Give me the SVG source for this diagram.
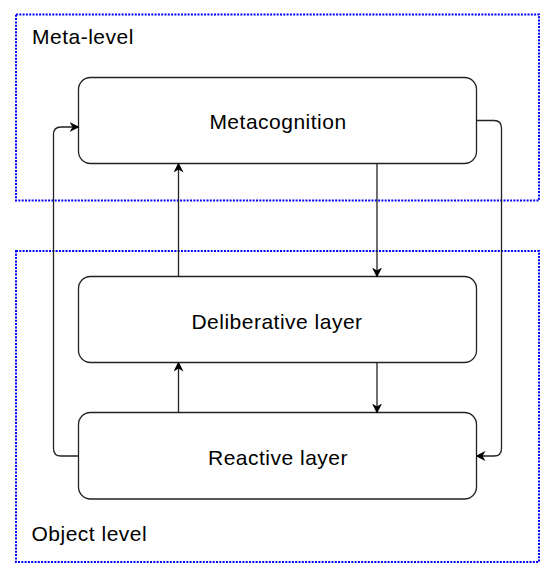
<svg xmlns="http://www.w3.org/2000/svg" width="557" height="581" viewBox="0 0 557 581">
<style>
.region{fill:none;stroke:#0000ff;stroke-width:2;stroke-dasharray:2 1.3}
.node{fill:#ffffff;stroke:#222222;stroke-width:1.3}
.lbl{font-family:"Liberation Sans",Arial,sans-serif;font-size:21px;letter-spacing:0.5px;fill:#000}
.conn path{fill:none;stroke:#222222;stroke-width:1.3}
</style>
<defs>
<marker id="arr" viewBox="0 0 10 10" refX="9" refY="5" markerWidth="10" markerHeight="10" markerUnits="userSpaceOnUse" orient="auto">
<path d="M0,0 L10,5 L0,10 L3,5 Z" fill="#000"/>
</marker>
</defs>
<rect fill="#ffffff" x="0" y="0" width="557" height="581"/>
<g id="meta-level">
<rect class="region" x="16" y="14.5" width="523" height="186"/>
<text class="lbl" x="32" y="44">Meta-level</text>
</g>
<g id="object-level">
<rect class="region" x="16" y="251" width="523" height="311"/>
<text class="lbl" x="31.5" y="541">Object level</text>
</g>
<g id="metacognition">
<rect class="node" x="78.5" y="77.5" width="398" height="86" rx="12"/>
<text class="lbl" x="278" y="128.5" text-anchor="middle">Metacognition</text>
</g>
<g id="deliberative">
<rect class="node" x="78.5" y="276.5" width="398" height="86" rx="12"/>
<text class="lbl" x="277" y="328.5" text-anchor="middle">Deliberative layer</text>
</g>
<g id="reactive">
<rect class="node" x="78.5" y="412.5" width="398" height="86.5" rx="12"/>
<text class="lbl" x="278" y="464.5" text-anchor="middle">Reactive layer</text>
</g>
<g class="conn" id="connectors">
<path d="M178.5,276.5 V163.5" marker-end="url(#arr)"/>
<path d="M377,163.5 V276.5" marker-end="url(#arr)"/>
<path d="M178.5,412.5 V362.5" marker-end="url(#arr)"/>
<path d="M377,362.5 V412.5" marker-end="url(#arr)"/>
<path d="M78.5,456 H61 Q53.5,456 53.5,448.5 V134.5 Q53.5,127 61,127 H78.5" marker-end="url(#arr)"/>
<path d="M476.5,120.5 H494 Q501.5,120.5 501.5,128 V448.5 Q501.5,456 494,456 H476.5" marker-end="url(#arr)"/>
</g>
</svg>
